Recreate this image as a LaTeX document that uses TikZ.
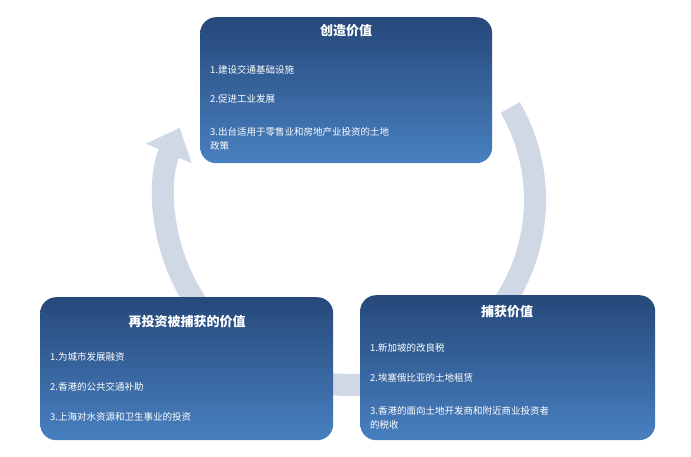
\documentclass[tikz,border=0pt]{standalone}
\usepackage{fontspec}
\setmainfont{Noto Sans CJK SC}
\usetikzlibrary{arrows.meta}
\begin{document}
\begin{tikzpicture}[x=1pt,y=-1pt,
  box/.style={draw=none,rounded corners=16pt,top color={rgb,255:red,38;green,72;blue,122},bottom color={rgb,255:red,72;green,128;blue,192},anchor=north west,inner sep=0pt},
  ttl/.style={text=white,font=\bfseries\fontsize{13pt}{15pt}\selectfont},
  itm/.style={text=white,font=\fontsize{9.5pt}{14pt}\selectfont,anchor=west,align=left,text width=275pt,inner sep=0pt}]
\definecolor{ring}{RGB}{208,216,230}
\useasboundingbox (0,0) rectangle (691,457);
\coordinate (c) at (350,200);
\draw[ring,line width=22pt,-{Triangle[length=28pt,width=48pt]}] ([shift={(-30:185)}]c) arc[start angle=-30,end angle=203,radius=185];
\node[box,minimum width=292pt,minimum height=146pt] (top) at (200,17) {};
\node[box,minimum width=295pt,minimum height=145pt] (rgt) at (360,295) {};
\node[box,minimum width=293pt,minimum height=143pt] (lft) at (40,297) {};
\node[ttl] (t1) at (346,31) {创造价值};
\node[itm] (a1) at (210,70) {1.建设交通基础设施};
\node[itm] (a2) at (210,99) {2.促进工业发展};
\node[itm] (a3) at (210,139) {3.出台适用于零售业和房地产业投资的土地\\政策};
\node[ttl] (t2) at (507,312) {捕获价值};
\node[itm] (b1) at (370,348) {1.新加坡的改良税};
\node[itm] (b2) at (370,378) {2.埃塞俄比亚的土地租赁};
\node[itm] (b3) at (370,418) {3.香港的面向土地开发商和附近商业投资者\\的税收};
\node[ttl] (t3) at (187,322) {再投资被捕获的价值};
\node[itm] (c1) at (50,357) {1.为城市发展融资};
\node[itm] (c2) at (50,387) {2.香港的公共交通补助};
\node[itm] (c3) at (50,417) {3.上海对水资源和卫生事业的投资};
\end{tikzpicture}
\end{document}
